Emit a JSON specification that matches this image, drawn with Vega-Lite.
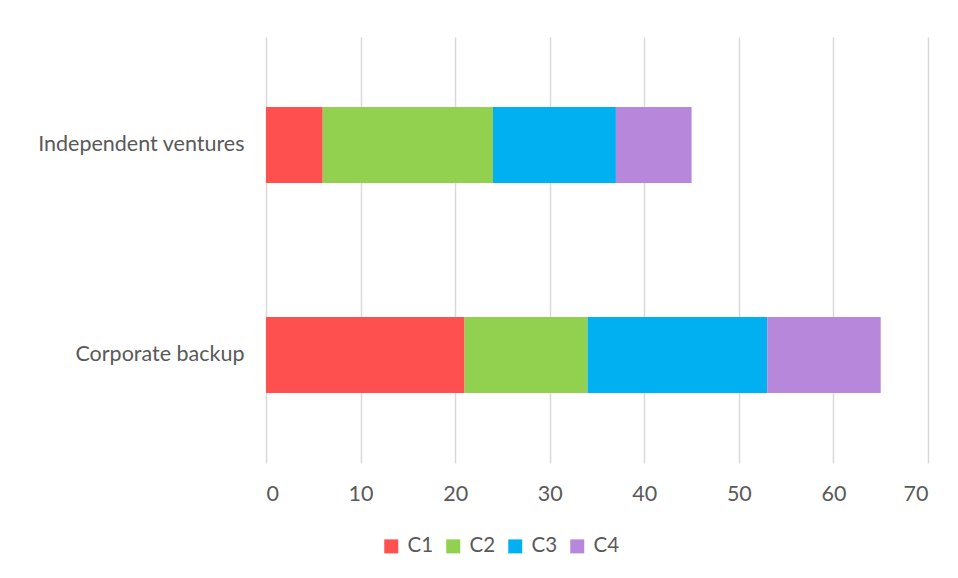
{
  "$schema": "https://vega.github.io/schema/vega-lite/v6.json",
  "autosize": {"type": "none"},
  "width": 662,
  "height": 426,
  "padding": {"left": 266, "top": 37, "right": 30, "bottom": 115},
  "background": "white",
  "config": {
    "font": "Lato",
    "view": {"stroke": null},
    "axis": {"labelColor": "#595959", "labelFont": "Lato", "labelFontSize": 21.5, "labelLimit": 400}
  },
  "data": {
    "values": [
      {"group": "Independent ventures", "series": "C1", "value": 6},
      {"group": "Independent ventures", "series": "C2", "value": 18},
      {"group": "Independent ventures", "series": "C3", "value": 13},
      {"group": "Independent ventures", "series": "C4", "value": 8},
      {"group": "Corporate backup", "series": "C1", "value": 21},
      {"group": "Corporate backup", "series": "C2", "value": 13},
      {"group": "Corporate backup", "series": "C3", "value": 19},
      {"group": "Corporate backup", "series": "C4", "value": 12}
    ]
  },
  "mark": {"type": "bar"},
  "encoding": {
    "y": {
      "field": "group",
      "type": "nominal",
      "sort": ["Independent ventures", "Corporate backup"],
      "scale": {"paddingInner": 0.638, "paddingOuter": 0.333},
      "axis": {"title": null, "domain": false, "ticks": false, "labelPadding": 22, "grid": false}
    },
    "x": {
      "field": "value",
      "type": "quantitative",
      "stack": "zero",
      "scale": {"domain": [0, 70], "nice": false},
      "axis": {
        "title": null,
        "values": [0, 10, 20, 30, 40, 50, 60, 70],
        "domain": false,
        "ticks": false,
        "labelPadding": 20,
        "grid": true,
        "gridColor": "#D9D9D9",
        "gridWidth": 1.5
      }
    },
    "color": {
      "field": "series",
      "type": "nominal",
      "scale": {"domain": ["C1", "C2", "C3", "C4"], "range": ["#FF5050", "#92D050", "#00B0F0", "#B787DB"]},
      "legend": {
        "title": null,
        "orient": "none",
        "direction": "horizontal",
        "legendX": 115,
        "legendY": 499,
        "symbolType": "square",
        "symbolSize": 196,
        "symbolStrokeWidth": 0,
        "labelFontSize": 20.5,
        "labelColor": "#595959",
        "labelFont": "Lato",
        "labelOffset": 6,
        "columnPadding": 9
      }
    },
    "order": {"field": "series", "sort": "ascending"}
  }
}
